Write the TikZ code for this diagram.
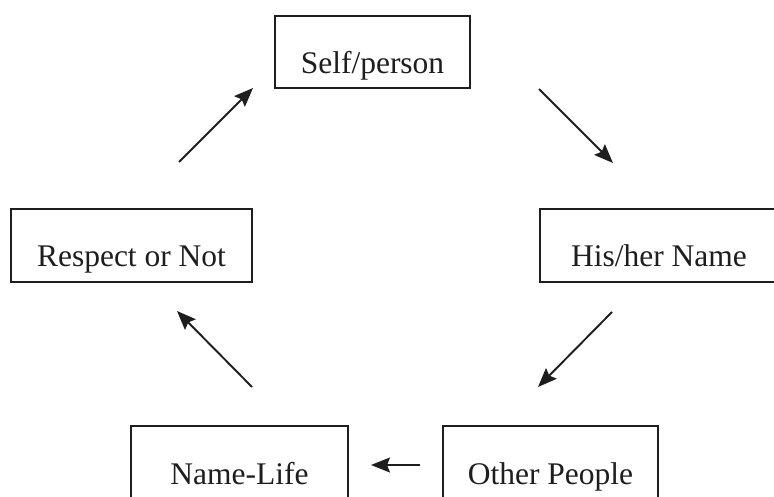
\documentclass[tikz,border=0pt]{standalone}
\usepackage{fontspec}
\setmainfont{Liberation Serif}
\usetikzlibrary{arrows.meta}
\definecolor{ink}{HTML}{1E1E1E}
\begin{document}
\begin{tikzpicture}[x=1pt,y=-1pt,
  box/.style={draw=ink, line width=1.8pt, rectangle, inner sep=0pt,
    font=\fontsize{31.5}{36}\selectfont, text=ink,
    text height=43pt, text depth=0pt, align=center},
  flow/.style={draw=ink, line width=1.9pt,
    -{Stealth[length=19pt,width=15pt,inset=3pt]}}]
\useasboundingbox (0,0) rectangle (774,497);
% boxes
\node[box, minimum width=195pt, minimum height=72pt] (self) at (372.5,52) {Self/person};
\node[box, minimum width=238pt, minimum height=73pt] (his) at (659,245.5) {His/her Name};
\node[box, minimum width=241pt, minimum height=73pt] (resp) at (131.5,245.5) {Respect or Not};
\node[box, minimum width=217pt, minimum height=73pt] (life) at (239.5,462.5) {Name-Life};
\node[box, minimum width=215pt, minimum height=73pt] (other) at (550.5,462.5) {Other People};
% arrow ends
\coordinate (a1s) at (179,162); \coordinate (a1e) at (253,88);
\coordinate (a2s) at (539,89);  \coordinate (a2e) at (613,163);
\coordinate (a3s) at (612,312); \coordinate (a3e) at (538,387);
\coordinate (a4s) at (252,387); \coordinate (a4e) at (177,311);
\coordinate (a5s) at (420,465); \coordinate (a5e) at (371,465);
\draw[flow] (a1s) -- (a1e);
\draw[flow] (a2s) -- (a2e);
\draw[flow] (a3s) -- (a3e);
\draw[flow] (a4s) -- (a4e);
\draw[flow] (a5s) -- (a5e);
\end{tikzpicture}
\end{document}
